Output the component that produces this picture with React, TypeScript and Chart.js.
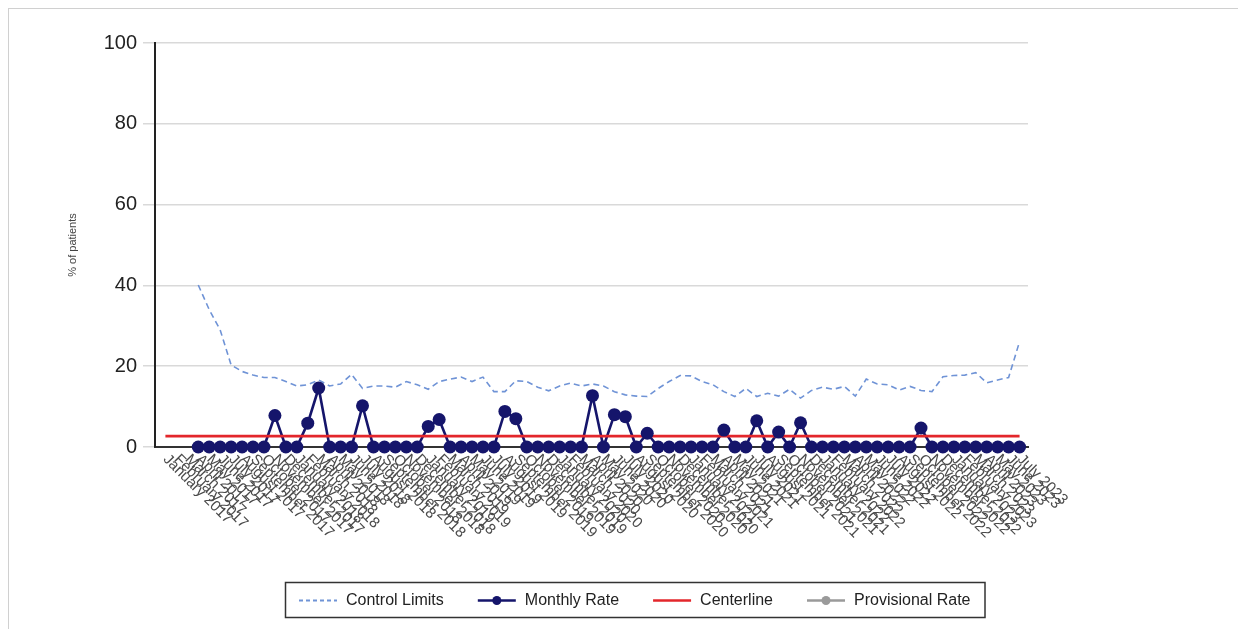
import React, { useEffect, useRef } from "react";
import { Chart, registerables } from "chart.js";

Chart.register(...registerables);
Chart.defaults.font.family = 'Arial, "Liberation Sans", Helvetica, sans-serif';

// ---- Data ----
const categories = [
  "January 2017", "February 2017", "March 2017", "April 2017", "May 2017", "June 2017",
  "July 2017", "August 2017", "September 2017", "October 2017", "November 2017", "December 2017",
  "January 2018", "February 2018", "March 2018", "April 2018", "May 2018", "June 2018",
  "July 2018", "August 2018", "September 2018", "October 2018", "November 2018", "December 2018",
  "January 2019", "February 2019", "March 2019", "April 2019", "May 2019", "June 2019",
  "July 2019", "August 2019", "September 2019", "October 2019", "November 2019", "December 2019",
  "January 2020", "February 2020", "March 2020", "April 2020", "May 2020", "June 2020",
  "July 2020", "August 2020", "September 2020", "October 2020", "November 2020", "December 2020",
  "January 2021", "February 2021", "March 2021", "April 2021", "May 2021", "June 2021",
  "July 2021", "August 2021", "September 2021", "October 2021", "November 2021", "December 2021",
  "January 2022", "February 2022", "March 2022", "April 2022", "May 2022", "June 2022",
  "July 2022", "August 2022", "September 2022", "October 2022", "November 2022", "December 2022",
  "January 2023", "February 2023", "March 2023", "April 2023", "May 2023", "June 2023",
  "July 2023",
];

const monthlyRate: (number | null)[] = [
  null, null, null,
  0, 0, 0, 0, 0, 0, 0, 7.8, 0, 0,
  5.9, 14.6, 0, 0, 0, 10.2, 0, 0, 0, 0,
  0, 5.1, 6.8, 0, 0, 0, 0, 0, 8.8, 7,
  0, 0, 0, 0, 0, 0, 12.7, 0, 8, 7.5,
  0, 3.4, 0, 0, 0, 0, 0, 0, 4.2, 0,
  0, 6.5, 0, 3.7, 0, 6, 0, 0, 0, 0,
  0, 0, 0, 0, 0, 0, 4.7, 0, 0, 0,
  0, 0, 0, 0, 0, 0,
];

const controlLimits: (number | null)[] = [
  null, null, null,
  40.1, 34, 29, 20.3, 18.7, 17.8, 17.2, 17.2, 16.2, 15.1,
  15.4, 16.6, 15.1, 15.6, 18, 14.5, 15.1, 15.1, 14.8, 16.2,
  15.4, 14.3, 16.2, 16.8, 17.3, 16.2, 17.3, 13.7, 13.7, 16.4,
  16.2, 14.8, 13.9, 15.1, 15.8, 15.1, 15.6, 15.1, 13.7, 12.9,
  12.6, 12.5, 14.5, 16.2, 17.7, 17.6, 16.2, 15.4, 13.7, 12.5,
  14.5, 12.5, 13.3, 12.6, 14.3, 12.1, 14, 14.8, 14.3, 15,
  12.6, 16.8, 15.6, 15.4, 14.1, 15, 14, 13.7, 17.4, 17.7,
  17.8, 18.4, 15.9, 16.6, 17.2, 26.1,
];

const centerline: number[] = [
  2.7, 2.7, 2.7, 2.7, 2.7, 2.7, 2.7, 2.7, 2.7, 2.7,
  2.7, 2.7, 2.7, 2.7, 2.7, 2.7, 2.7, 2.7, 2.7, 2.7,
  2.7, 2.7, 2.7, 2.7, 2.7, 2.7, 2.7, 2.7, 2.7, 2.7,
  2.7, 2.7, 2.7, 2.7, 2.7, 2.7, 2.7, 2.7, 2.7, 2.7,
  2.7, 2.7, 2.7, 2.7, 2.7, 2.7, 2.7, 2.7, 2.7, 2.7,
  2.7, 2.7, 2.7, 2.7, 2.7, 2.7, 2.7, 2.7, 2.7, 2.7,
  2.7, 2.7, 2.7, 2.7, 2.7, 2.7, 2.7, 2.7, 2.7, 2.7,
  2.7, 2.7, 2.7, 2.7, 2.7, 2.7, 2.7, 2.7, 2.7,
];

const provisionalRate: (number | null)[] = [];

const yTickValues = [0, 20, 40, 60, 80, 100];
const yAxisTitle = "% of patients";

// ---- Styles ----
const NAVY = "#15156b";
const RED = "#e3262b";
const LIGHT_BLUE = "#6f93d6";
const GRAY = "#9a9a9a";

const toPoints = (arr: (number | null)[]) =>
  arr.map((v, i) => ({ x: i, y: v }));

const xLabelPlugin = {
  id: "slantedXLabels",
  afterDraw(chart: any) {
    const xs = chart.scales.x;
    const { ctx, chartArea } = chart;
    ctx.save();
    ctx.font = '15px Arial, "Liberation Sans", sans-serif';
    ctx.fillStyle = "#4a4a4a";
    ctx.textAlign = "left";
    ctx.textBaseline = "middle";
    const angle = (45 * Math.PI) / 180;
    categories.forEach((label, i) => {
      const px = xs.getPixelForValue(i);
      ctx.save();
      ctx.translate(px, chartArea.bottom + 10);
      ctx.rotate(angle);
      ctx.fillText(label, 0, 0);
      ctx.restore();
    });
    ctx.restore();
  },
};

const boxLegendPlugin = {
  id: "boxLegend",
  afterDraw(chart: any) {
    const ctx = chart.ctx;
    const items = chart.data.datasets.filter((d: any) => d.legendLabel);
    ctx.save();
    ctx.font = '16px Arial, "Liberation Sans", sans-serif';
    const sampleW = 38;
    const gapST = 9;
    const gapItem = 34;
    const padX = 14;
    const textWs = items.map((d: any) => ctx.measureText(d.legendLabel).width);
    let total = padX * 2;
    textWs.forEach((w: number, i: number) => {
      total += sampleW + gapST + w + (i < items.length - 1 ? gapItem : 0);
    });
    const h = 35;
    const left = Math.round(626 - total / 2);
    const top = 573;
    ctx.strokeStyle = "#333";
    ctx.lineWidth = 1.5;
    ctx.strokeRect(left + 0.5, top + 0.5, total, h);
    const cy = top + h / 2 + 1;
    let x = left + padX;
    items.forEach((d: any, i: number) => {
      ctx.save();
      ctx.strokeStyle = d.legendColor;
      ctx.lineWidth = d.legendDash ? 1.8 : 2.5;
      ctx.setLineDash(d.legendDash || []);
      ctx.beginPath();
      ctx.moveTo(x, cy);
      ctx.lineTo(x + sampleW, cy);
      ctx.stroke();
      if (d.legendPoint) {
        ctx.fillStyle = d.legendColor;
        ctx.beginPath();
        ctx.arc(x + sampleW / 2, cy, 4.5, 0, Math.PI * 2);
        ctx.fill();
      }
      ctx.restore();
      x += sampleW + gapST;
      ctx.fillStyle = "#222";
      ctx.textAlign = "left";
      ctx.textBaseline = "middle";
      ctx.fillText(d.legendLabel, x, cy);
      x += textWs[i] + gapItem;
    });
    ctx.restore();
  },
};

export default function App() {
  const canvasRef = useRef<HTMLCanvasElement | null>(null);

  useEffect(() => {
    if (!canvasRef.current) return;
    const chart = new Chart(canvasRef.current, {
      type: "line",
      data: {
        datasets: [
          {
            label: "Control Limits",
            legendLabel: "Control Limits",
            legendColor: LIGHT_BLUE,
            legendDash: [4, 3],
            data: toPoints(controlLimits),
            borderColor: LIGHT_BLUE,
            borderWidth: 1.6,
            borderDash: [6, 4],
            pointRadius: 0,
            fill: false,
            tension: 0,
            clip: false,
            order: 3,
          } as any,
          {
            label: "Monthly Rate",
            legendLabel: "Monthly Rate",
            legendColor: NAVY,
            legendPoint: true,
            data: toPoints(monthlyRate),
            borderColor: NAVY,
            borderWidth: 2.6,
            pointRadius: 0,
            fill: false,
            tension: 0,
            clip: false,
            order: 2,
          } as any,
          {
            label: "Centerline",
            legendLabel: "Centerline",
            legendColor: RED,
            data: toPoints(centerline),
            borderColor: RED,
            borderWidth: 2.6,
            pointRadius: 0,
            fill: false,
            clip: false,
            order: 1,
          } as any,
          {
            label: "Monthly Rate points",
            data: toPoints(monthlyRate),
            showLine: false,
            pointRadius: 6.5,
            pointBackgroundColor: NAVY,
            pointBorderColor: NAVY,
            pointBorderWidth: 0,
            clip: false,
            order: 0,
          } as any,
          {
            label: "Provisional Rate",
            legendLabel: "Provisional Rate",
            legendColor: GRAY,
            legendPoint: true,
            data: toPoints(provisionalRate),
            borderColor: GRAY,
            pointBackgroundColor: GRAY,
            pointRadius: 6.5,
            clip: false,
            order: 4,
          } as any,
        ],
      },
      options: {
        animation: false,
        responsive: false,
        layout: { padding: { top: 34, left: 0, right: 210, bottom: 162 } },
        plugins: {
          legend: { display: false },
          tooltip: { enabled: false },
          title: { display: false },
        },
        scales: {
          x: {
            type: "linear",
            min: -0.95,
            max: 78.77,
            ticks: { display: false },
            grid: { display: false },
            border: { display: true, color: "#333", width: 2 },
            afterFit: (s: any) => {
              s.height = 20;
              s.paddingLeft = 0;
              s.paddingRight = 0;
            },
          },
          y: {
            type: "linear",
            min: 0,
            max: 100,
            afterBuildTicks: (s: any) => {
              s.ticks = yTickValues.map((v) => ({ value: v }));
            },
            ticks: {
              font: { size: 20 },
              color: "#222",
              padding: 6,
            },
            grid: { color: "#d9d9d9", lineWidth: 1.5, tickLength: 12, drawTicks: true },
            border: { display: true, color: "#222", width: 2 },
            title: {
              display: true,
              text: yAxisTitle,
              font: { size: 11 },
              color: "#444",
              padding: { top: 57, bottom: 0 },
            },
            afterFit: (s: any) => {
              s.width = 146;
              s.paddingTop = 0;
              s.paddingBottom = 0;
            },
          },
        },
      } as any,
      plugins: [xLabelPlugin, boxLegendPlugin],
    });
    return () => chart.destroy();
  }, []);

  return (
    <div
      style={{
        width: 1230,
        height: 621,
        boxSizing: "border-box",
        borderTop: "1px solid #d0d0d0",
        borderLeft: "1px solid #d0d0d0",
      }}
    >
      <canvas ref={canvasRef} width={1229} height={620} style={{ display: "block" }} />
    </div>
  );
}
